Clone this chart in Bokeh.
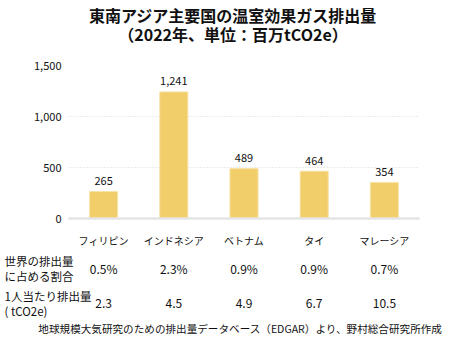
from bokeh.plotting import figure
from bokeh.models import Range1d, FixedTicker, ColumnDataSource, LabelSet, NumeralTickFormatter
from bokeh.layouts import column
from bokeh.core.properties import value
from bokeh.embed import file_html
from bokeh.resources import INLINE

countries = ["フィリピン", "インドネシア", "ベトナム", "タイ", "マレーシア"]
emissions = [265, 1241, 489, 464, 354]
emission_labels = ["265", "1,241", "489", "464", "354"]
world_share = ["0.5%", "2.3%", "0.9%", "0.9%", "0.7%"]
per_capita = ["2.3", "4.5", "4.9", "6.7", "10.5"]
y_ticks = [0, 500, 1000, 1500]
title_lines = ["東南アジア主要国の温室効果ガス排出量", "（2022年、単位：百万tCO2e）"]
row1_label = "世界の排出量\nに占める割合"
row2_label = "1人当たり排出量\n( tCO2e)"
source_note = "地球規模大気研究のための排出量データベース（EDGAR）より、野村総合研究所作成"

JP = "Noto Sans CJK JP"
INK = "#111111"
W = 465
H0, H1, H2 = 48, 202, 90
TOP, BOTTOM, LEFT, RIGHT = 17, 30, 68, 46
STEP = (W - LEFT - RIGHT) / len(countries)


def bare(fig):
    fig.axis.visible = False
    fig.grid.visible = False
    fig.outline_line_color = None
    fig.frame_align = False
    return fig


# header with the two-line title
h = bare(figure(width=W, height=H0, x_range=Range1d(0, W), y_range=Range1d(H0, 0),
                output_backend="svg", toolbar_location=None, min_border=0))
h.text(x=[W / 2] * 2, y=[14, 33], text=title_lines, text_font=value(JP),
       text_font_size="16px", text_font_style="bold", text_align="center",
       text_baseline="middle", text_color=INK)

# bar chart
p = figure(width=W, height=H1, x_range=countries, y_range=Range1d(0, 1500),
           output_backend="svg", toolbar_location=None,
           min_border_top=TOP, min_border_bottom=BOTTOM,
           min_border_left=LEFT, min_border_right=RIGHT)
p.frame_align = False
p.x_range.range_padding = 0
p.outline_line_color = None

src = ColumnDataSource(dict(x=countries, top=emissions, lab=emission_labels))
p.vbar(x="x", top="top", width=0.4, source=src, fill_color="#F2CE6A",
       line_color="#F8E3A8", line_width=1)
p.add_layout(LabelSet(x="x", y="top", text="lab", source=src, text_align="center",
                      text_baseline="middle", y_offset=10.5, text_font=value(JP),
                      text_font_size=value("11px"), text_color=INK))

p.yaxis.ticker = FixedTicker(ticks=y_ticks)
p.yaxis.formatter = NumeralTickFormatter(format="0,0")
p.yaxis.axis_line_color = None
p.yaxis.major_tick_line_color = None
p.yaxis.minor_tick_line_color = None
p.yaxis.major_label_text_font = JP
p.yaxis.major_label_text_font_size = "11px"
p.yaxis.major_label_text_color = INK
p.yaxis.major_label_standoff = 1

p.xaxis.axis_line_color = "#E4E4E4"
p.xaxis.axis_line_width = 2.5
p.xaxis.major_tick_line_color = None
p.xaxis.major_label_text_font = JP
p.xaxis.major_label_text_font_size = "10px"
p.xaxis.major_label_text_color = INK
p.xaxis.major_label_standoff = 8

p.xgrid.grid_line_color = None
p.ygrid.grid_line_color = "#D8D8D8"
p.ygrid.grid_line_dash = "1 2"

# table below the chart, same horizontal scale (one unit per category)
t = bare(figure(width=W, height=H2, x_range=Range1d(-LEFT / STEP, (W - LEFT) / STEP),
                y_range=Range1d(H2, 0), output_backend="svg", toolbar_location=None,
                min_border=0))

xs = [i + 0.5 for i in range(len(countries))]
rows = [(row1_label, 18, world_share), (row2_label, 53, per_capita)]
for lab, yc, vals in rows:
    t.text(x=[(4 - LEFT) / STEP], y=[yc], text=[lab], text_font=value(JP),
           text_font_size="11.5px", text_baseline="middle", text_align="left",
           text_color=INK, text_line_height=0.88)
    t.text(x=xs, y=[yc] * len(vals), text=vals, text_font=value(JP), text_font_size="12px",
           text_baseline="middle", text_align="center", text_color=INK)

t.text(x=[(240 - LEFT) / STEP], y=[78], text=[source_note], text_font=value(JP),
       text_font_size="10.6px", text_baseline="middle", text_align="center", text_color=INK)

layout = column(h, p, t, spacing=0)
open("out.html", "w").write(file_html(layout, INLINE))
